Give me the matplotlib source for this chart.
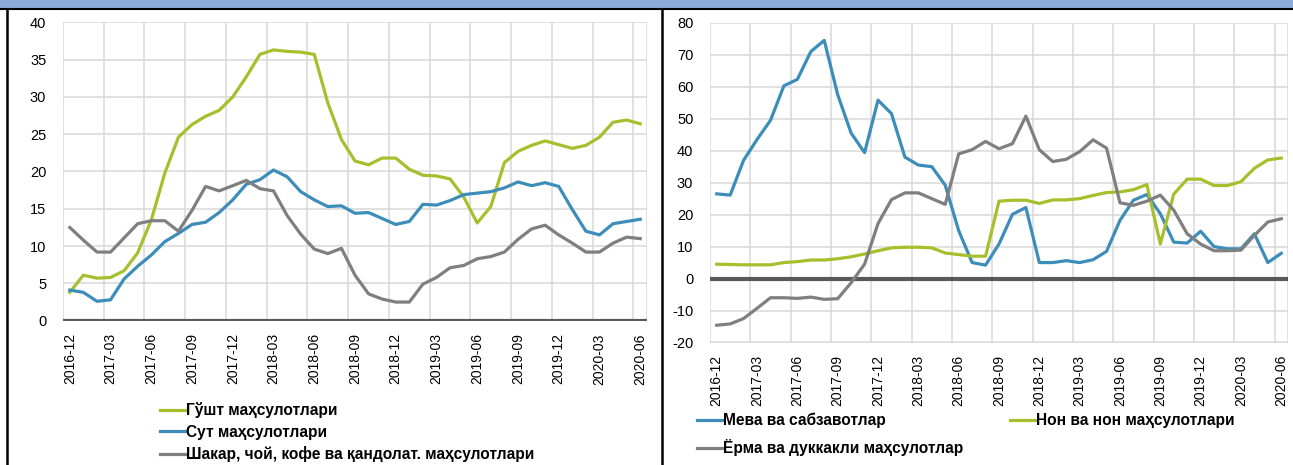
import numpy as np
import matplotlib
matplotlib.use("Agg")
import matplotlib.pyplot as plt
from matplotlib.patches import Rectangle
from matplotlib.lines import Line2D

plt.rcParams['font.family'] = ['Liberation Sans', 'DejaVu Sans']

# monthly categories 2016-12 .. 2020-06
months = []
y, m = 2016, 12
for i in range(43):
    months.append("%d-%02d" % (y, m))
    m += 1
    if m > 12:
        m = 1
        y += 1

# left panel
gusht = [3.8, 6.1, 5.7, 5.8, 6.7, 9.1, 13.5, 19.8, 24.6, 26.3, 27.4, 28.2, 30.0,
         32.7, 35.7, 36.3, 36.1, 36.0, 35.7, 29.2, 24.3, 21.4, 20.9, 21.8, 21.8,
         20.3, 19.5, 19.4, 19.0, 16.6, 13.1, 15.3, 21.2, 22.7, 23.5, 24.1, 23.6,
         23.1, 23.5, 24.6, 26.6, 26.9, 26.4]
sut = [4.1, 3.8, 2.6, 2.8, 5.6, 7.3, 8.8, 10.6, 11.7, 12.9, 13.2, 14.5, 16.2,
       18.3, 18.9, 20.2, 19.3, 17.3, 16.2, 15.3, 15.4, 14.4, 14.5, 13.7, 12.9,
       13.3, 15.6, 15.5, 16.1, 16.9, 17.1, 17.3, 17.8, 18.6, 18.1, 18.5, 18.0,
       14.9, 12.0, 11.5, 13.0, 13.3, 13.6]
shakar = [12.5, 10.8, 9.2, 9.2, 11.1, 13.0, 13.4, 13.4, 12.0, 14.8, 18.0, 17.4, 18.1,
          18.8, 17.7, 17.4, 14.1, 11.6, 9.6, 9.0, 9.7, 6.1, 3.6, 2.9, 2.5,
          2.5, 4.9, 5.8, 7.1, 7.4, 8.3, 8.6, 9.2, 10.9, 12.3, 12.8, 11.5,
          10.4, 9.2, 9.2, 10.4, 11.2, 11.0]

# right panel
meva = [26.5, 26.1, 37.0, 43.5, 49.5, 60.3, 62.3, 71.0, 74.5, 57.5, 45.5, 39.4, 55.8,
        51.6, 38.0, 35.5, 35.0, 29.2, 15.0, 5.0, 4.2, 10.8, 20.1, 22.2, 5.0,
        5.0, 5.6, 5.0, 5.9, 8.5, 18.2, 24.5, 26.3, 20.3, 11.4, 11.1, 14.8,
        10.0, 9.3, 9.3, 14.0, 5.0, 7.9]
non = [4.5, 4.4, 4.3, 4.3, 4.3, 5.0, 5.3, 5.8, 5.8, 6.2, 6.8, 7.7, 8.7,
       9.6, 9.8, 9.8, 9.6, 8.0, 7.5, 7.0, 7.0, 24.2, 24.5, 24.5, 23.5,
       24.6, 24.6, 25.0, 26.0, 26.9, 27.1, 27.8, 29.4, 10.8, 26.4, 31.1, 31.1,
       29.1, 29.1, 30.3, 34.5, 37.1, 37.7]
yorma = [-14.6, -14.2, -12.5, -9.3, -6.0, -6.0, -6.2, -5.8, -6.5, -6.3, -1.3, 4.5, 17.2,
         24.7, 26.8, 26.8, 25.0, 23.2, 39.0, 40.3, 42.9, 40.6, 42.2, 50.8, 40.3,
         36.6, 37.3, 39.7, 43.4, 40.8, 23.7, 22.9, 24.2, 26.1, 21.4, 14.0, 10.8,
         8.7, 8.7, 8.9, 13.5, 17.7, 18.7]

GREEN = '#A6BF2C'
BLUE = '#3C8DBA'
GRAY = '#7F7F7F'
GRID = '#D9D9D9'
ZERO = '#595959'

W, H = 1293, 465
fig = plt.figure(figsize=(W / 100, H / 100), dpi=100)
LEG = {'size': 11.2, 'weight': 'bold'}


def px_axes(x0, x1, ytop, ybot):
    return fig.add_axes([x0 / W, 1 - ybot / H, (x1 - x0) / W, (ybot - ytop) / H])


def style_axes(ax, ylo, yhi, ystep):
    n = len(months)
    ax.set_xlim(-0.5, n - 0.5)
    ax.set_ylim(ylo, yhi)
    ax.set_xticks(np.arange(0, n, 3))
    ax.set_xticklabels(months[::3], rotation=90, fontsize=10)
    ax.set_xticks(list(np.arange(-0.5, n, 3)) + [n - 0.5], minor=True)
    ax.set_yticks(np.arange(ylo, yhi + 0.1, ystep))
    ax.set_yticklabels([str(int(v)) for v in np.arange(ylo, yhi + 0.1, ystep)], fontsize=10.5)
    ax.tick_params(which='both', length=0)
    ax.tick_params(axis='y', pad=12)
    ax.tick_params(axis='x', pad=9)
    ax.grid(True, which='minor', axis='x', color=GRID, lw=1.1)
    ax.grid(True, which='major', axis='y', color=GRID, lw=1.1)
    ax.set_axisbelow(True)
    for s in ax.spines.values():
        s.set_visible(False)
    ax.axhline(0, color=ZERO, lw=3, zorder=2)


def put_legend(ax, handles, labels, x0, ytop, spacing):
    return ax.legend(handles, labels, loc='upper left', bbox_to_anchor=(x0 / W, 1 - ytop / H),
                     bbox_transform=fig.transFigure, frameon=False, prop=LEG, handlelength=1.6,
                     handletextpad=0.05, labelspacing=spacing, borderaxespad=0, borderpad=0)


x = np.arange(len(months))

ax1 = px_axes(63, 647, 22.3, 320.7)
style_axes(ax1, 0, 40, 5)
g1, = ax1.plot(x, gusht, color=GREEN, lw=2.3, zorder=3)
s1, = ax1.plot(x, sut, color=BLUE, lw=2.3, zorder=3)
k1, = ax1.plot(x, shakar, color=GRAY, lw=2.3, zorder=3)
put_legend(ax1, [g1, s1, k1],
           ['Гўшт маҳсулотлари', 'Сут маҳсулотлари', 'Шакар, чой, кофе ва қандолат. маҳсулотлари'],
           160, 402, 0.42)

ax2 = px_axes(710, 1288, 22.8, 342.5)
style_axes(ax2, -20, 80, 10)
l_meva, = ax2.plot(x, meva, color=BLUE, lw=2.3, zorder=3)
l_non, = ax2.plot(x, non, color=GREEN, lw=2.3, zorder=3)
l_yorma, = ax2.plot(x, yorma, color=GRAY, lw=2.3, zorder=3)
leg_a = put_legend(ax2, [l_meva, l_yorma], ['Мева ва сабзавотлар', 'Ёрма ва дуккакли маҳсулотлар'],
                   697, 413, 0.7)
ax2.add_artist(leg_a)
put_legend(ax2, [l_non], ['Нон ва нон маҳсулотлари'], 1010, 413, 0.7)

# page decorations: header band and frame lines
fig.patches.append(Rectangle((0, 1 - 9 / H), 1, 9 / H, transform=fig.transFigure,
                             facecolor='#8EAADB', edgecolor='none'))
fig.lines.append(Line2D([0, 1], [1 - 9.5 / H] * 2, transform=fig.transFigure, color='black', lw=1.5))
fig.lines.append(Line2D([7 / W] * 2, [0, 1 - 9.5 / H], transform=fig.transFigure, color='black', lw=1.8))
fig.lines.append(Line2D([662 / W] * 2, [0, 1 - 9.5 / H], transform=fig.transFigure, color='black', lw=1.8))

fig.savefig('out.png', dpi=100)
